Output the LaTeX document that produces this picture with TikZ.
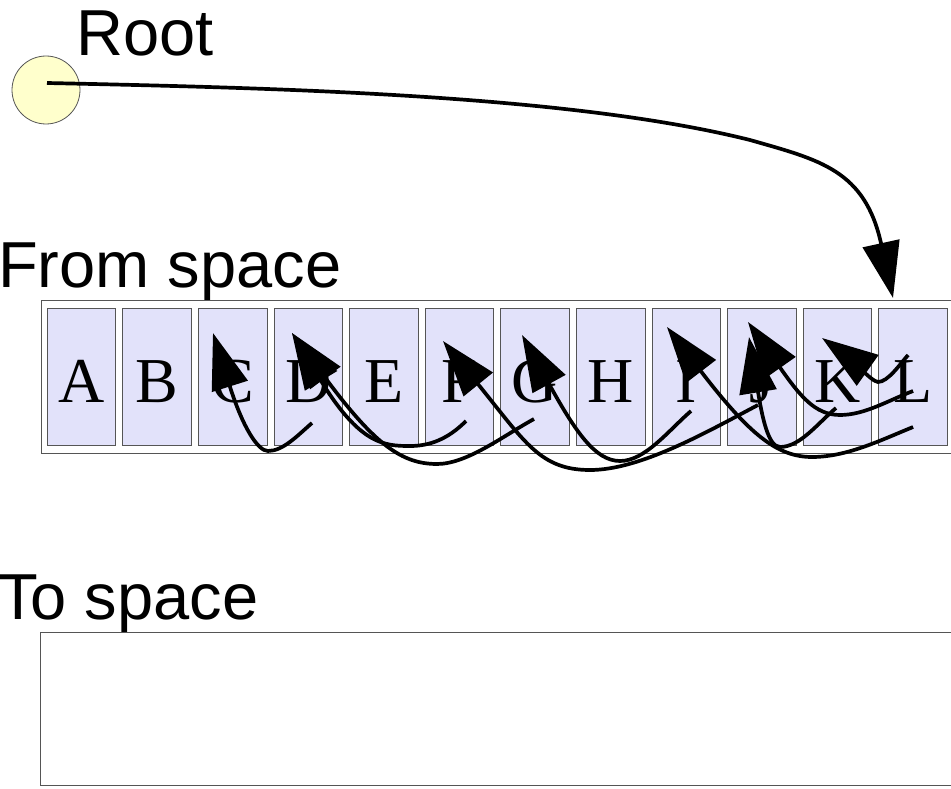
\documentclass[tikz,border=0pt]{standalone}
\usepackage{fontspec}
\setmainfont{Liberation Serif}
\newfontfamily\labelfont{Liberation Sans}
\usetikzlibrary{arrows.meta,calc}
\definecolor{cellfill}{RGB}{226,226,250}
\definecolor{rootfill}{RGB}{255,255,204}
\definecolor{edgegray}{RGB}{85,85,85}
\begin{document}
\begin{tikzpicture}[x=1pt,y=-1pt,
  cellbox/.style={draw=edgegray,line width=0.9pt,fill=cellfill,minimum width=68.5pt,minimum height=137pt,inner sep=0pt,text height=51pt,text depth=0pt,font=\fontsize{64}{70}\selectfont},
  spacebox/.style={draw=edgegray,line width=1pt,fill=white,inner sep=0pt,anchor=north west},
  title/.style={anchor=base west,inner sep=0pt,font=\labelfont\fontsize{65}{72}\selectfont},
  ptr/.style={line width=3.7pt,-{Triangle[length=56pt,width=37pt]}}]
\useasboundingbox (0,0) rectangle (951,789);
\fill[white] (0,0) rectangle (951,789);

% labels
\node[title] (rootlabel) at (76,56) {Root};
\node[title] (fromlabel) at (-2,287) {From space};
\node[title] (tolabel) at (-2,619) {To space};

% spaces
\node[spacebox,minimum width=915pt,minimum height=153pt] (fromspace) at (41,300) {};
\node[spacebox,minimum width=916pt,minimum height=153pt] (tospace) at (40,632) {};

% root
\node[circle,draw=edgegray,line width=0.8pt,fill=rootfill,minimum size=68pt,inner sep=0pt] (root) at (46,90) {};

% cells
\foreach \l [count=\i from 0] in {A,B,C,D,E,F,G,H,I,J,K,L}
  \node[cellbox] (c\l) at (81.5+75.6*\i,376.5) {\l};

% pointer ends
\coordinate (rs) at ($(root.center)+(1,-7)$);
\coordinate (rootend) at ($(fromspace.north west)+(852,-2)$);
\coordinate (hC) at ($(cC.center)+(-19.7,-43.5)$);
\coordinate (hD) at ($(cD.center)+(-16.3,-43.5)$);
\coordinate (hF) at ($(cF.center)+(-16.5,-35.5)$);
\coordinate (hG) at ($(cG.center)+(-13.1,-41.5)$);
\coordinate (hI) at ($(cI.center)+(-19.3,-49.5)$);
\coordinate (hJa) at ($(cJ.center)+(-13.9,-54.5)$);
\coordinate (hJb) at ($(cJ.center)+(-12.9,-39.5)$);
\coordinate (hK) at ($(cK.center)+(-15.5,-38.5)$);
\coordinate (tD) at ($(cD.center)+(3.7,46.5)$);
\coordinate (tF) at ($(cF.center)+(6.5,44.5)$);
\coordinate (tG) at ($(cG.center)+(-1.1,42.5)$);
\coordinate (tI) at ($(cI.center)+(4.7,34.5)$);
\coordinate (tJ) at ($(cJ.center)+(-3.9,28.5)$);
\coordinate (tK) at ($(cK.center)+(-1.5,31.5)$);
\coordinate (tLa) at ($(cL.center)+(0,50.5)$);
\coordinate (tLb) at ($(cL.center)+(0,14.5)$);
\coordinate (tLc) at ($(cL.center)+(-5,-21.5)$);

% root pointer
\draw[ptr] (rs) .. controls (280,88) and (570,95) .. (750,140) .. controls (820,160) and (865,170) .. (rootend);

% object pointers
\draw[ptr] (tD) .. controls (297,436) and (283,451) .. (268,451) .. controls (258,451) and (243,428) .. (hC);
\draw[ptr] (tF) .. controls (448,439) and (430,446) .. (410,446) .. controls (385,446) and (360,445) .. (hD);
\draw[ptr] (tG) .. controls (503,436) and (467,464) .. (437,464) .. controls (402,464) and (375,445) .. (hD);
\draw[ptr] (tJ) .. controls (705,433) and (640,470) .. (590,470) .. controls (540,470) and (525,442) .. (hF);
\draw[ptr] (tI) .. controls (668,431) and (645,461) .. (620,461) .. controls (595,461) and (575,431) .. (hG);
\draw[ptr] (tLa) .. controls (881,440) and (847,457) .. (812,457) .. controls (777,457) and (749,434) .. (hI);
\draw[ptr] (tLb) .. controls (889,400) and (865,415) .. (840,415) .. controls (815,415) and (800,396) .. (hJa);
\draw[ptr] (tK) .. controls (817,424) and (800,447) .. (780,447) .. controls (768,447) and (762,416) .. (hJb);
\draw[ptr] (tLc) .. controls (900,364) and (888,382) .. (878,382) .. controls (872,382) and (846,355) .. (hK);
\end{tikzpicture}
\end{document}
